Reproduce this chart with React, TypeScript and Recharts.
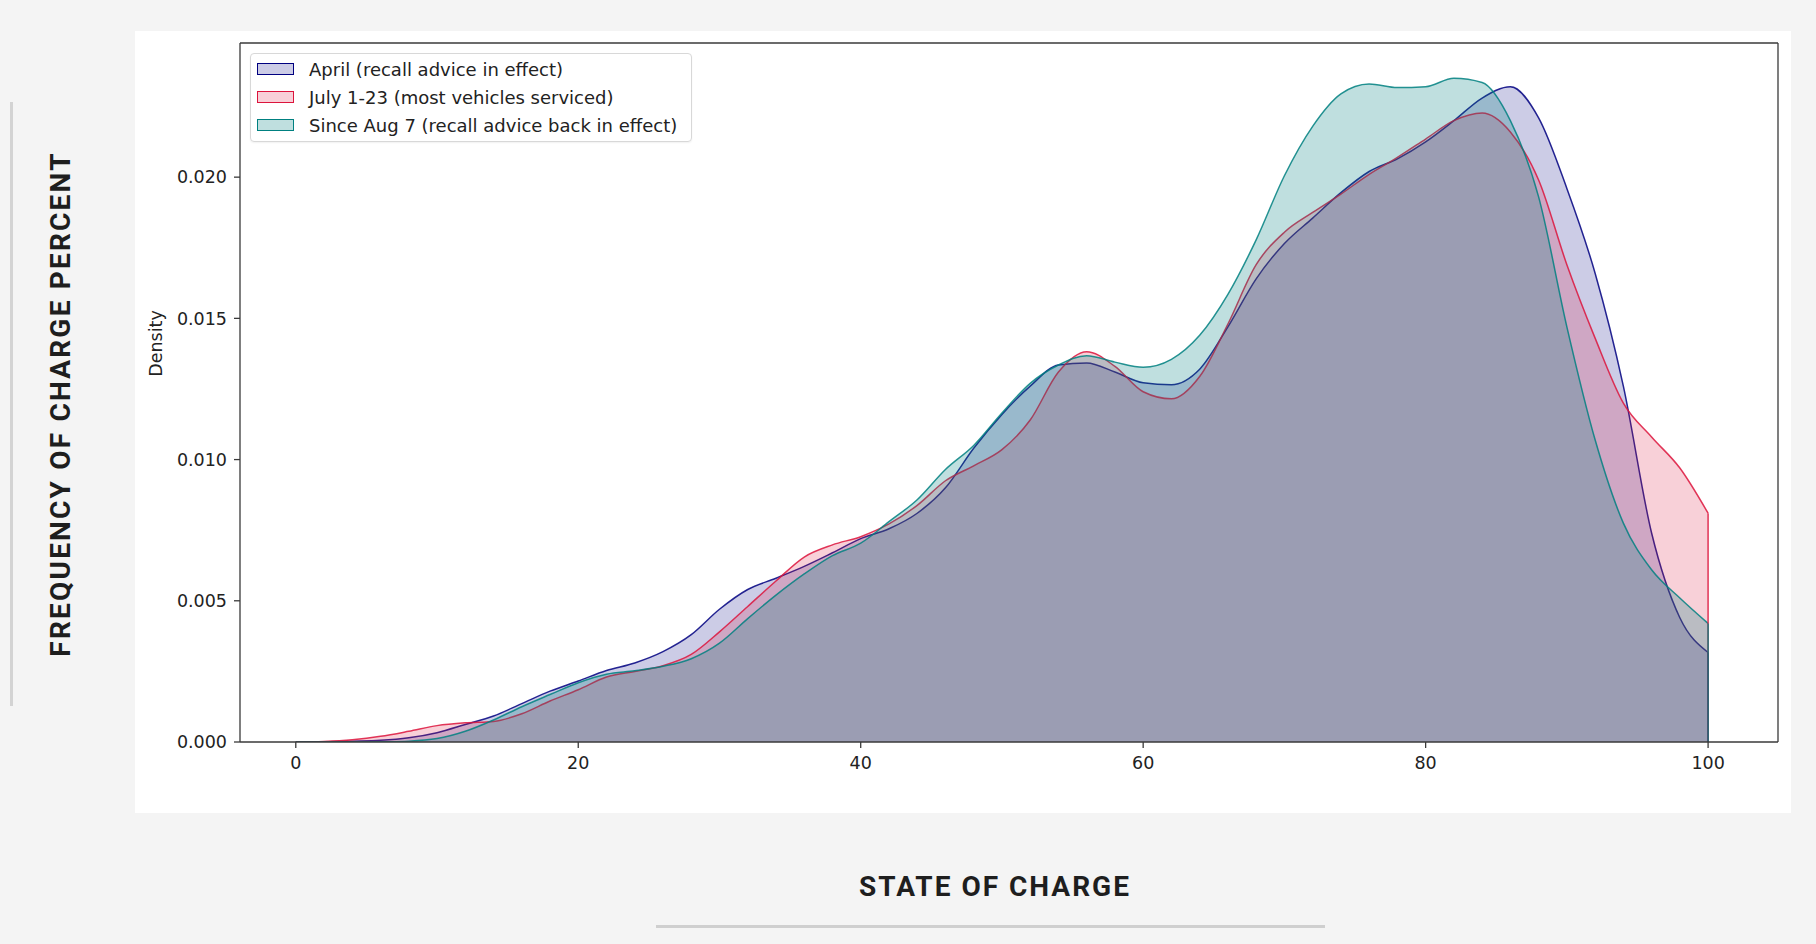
import { ComposedChart, Area, Line, XAxis, YAxis, Legend } from 'recharts';

// state of charge sample points (the density estimate is clipped at 100)
const soc = [
  0, 2, 4, 6, 8, 10, 12, 14, 16, 18, 20, 22, 24, 26, 28, 30, 32, 34, 36, 38, 40, 42, 44, 46, 48, 50,
  52, 54, 56, 58, 60, 62, 64, 66, 68, 70, 72, 74, 76, 78, 80, 82, 84, 86, 88, 90, 92, 94, 96, 98, 100,
];

const april = [
  0, 0.00001, 0.00003, 0.00006, 0.00015, 0.00033, 0.00062, 0.00092, 0.00136, 0.0018, 0.00216, 0.00253,
  0.0028, 0.0032, 0.0038, 0.0047, 0.0054, 0.0058, 0.00622, 0.0067, 0.0072, 0.00755, 0.0081, 0.009,
  0.0104, 0.0116, 0.0126, 0.01335, 0.01342, 0.0131, 0.01272, 0.01265, 0.0132, 0.0147, 0.0164, 0.01765,
  0.01855, 0.01945, 0.0202, 0.02065, 0.02125, 0.022, 0.0228, 0.0232, 0.0221, 0.0196, 0.0166, 0.0126,
  0.0074, 0.0044, 0.00317,
];

const july = [
  0, 0.00002, 0.00008, 0.0002, 0.00038, 0.00058, 0.00068, 0.00073, 0.001, 0.00145, 0.00185, 0.0023,
  0.0025, 0.0027, 0.0031, 0.0039, 0.0048, 0.0057, 0.00655, 0.00698, 0.00727, 0.00772, 0.00838, 0.00925,
  0.00978, 0.01035, 0.0114, 0.0131, 0.01382, 0.0133, 0.0124, 0.01215, 0.01294, 0.0148, 0.0169, 0.01805,
  0.01875, 0.0194, 0.0201, 0.0207, 0.02135, 0.022, 0.02227, 0.0216, 0.0199, 0.0169, 0.0143, 0.012,
  0.0108, 0.0097, 0.0081,
];

const aug = [
  0, 0, 0, 0.00001, 0.00003, 0.00012, 0.00038, 0.00078, 0.00125, 0.00168, 0.0021, 0.0024, 0.00252,
  0.00268, 0.00295, 0.0035, 0.00437, 0.0052, 0.00595, 0.0066, 0.00704, 0.0078, 0.00858, 0.00965, 0.0105,
  0.01165, 0.0127, 0.01335, 0.01368, 0.01345, 0.01327, 0.01355, 0.0144, 0.01585, 0.01778, 0.02005, 0.0218,
  0.02295, 0.0233, 0.02317, 0.0232, 0.0235, 0.02335, 0.022, 0.0193, 0.0147, 0.0107, 0.00775, 0.0061,
  0.0051, 0.0042,
];

const xTicks = [0, 20, 40, 60, 80, 100];
const yTicks = [0, 0.005, 0.01, 0.015, 0.02];

const series = [
  { key: 'april', values: april, name: 'April (recall advice in effect)', color: '#000080', alpha: 0.2, hex: '33' },
  { key: 'july', values: july, name: 'July 1-23 (most vehicles serviced)', color: '#dc143c', alpha: 0.2, hex: '33' },
  { key: 'aug', values: aug, name: 'Since Aug 7 (recall advice back in effect)', color: '#008080', alpha: 0.25, hex: '40' },
];

const data = soc.map((x, i) => ({ x, april: april[i], july: july[i], aug: aug[i] }));

// vertical edge where each clipped curve drops to zero at the last sample
const edge = (values: number[]) => {
  const last = soc.length - 1;
  return [
    { x: soc[last], y: values[last] },
    { x: soc[last], y: 0 },
  ];
};

const X_DOMAIN = [-3.95, 104.95];
const Y_DOMAIN = [0, 0.02475];
const tickStyle = { fontFamily: 'DejaVu Sans', fontSize: 17.5, fill: '#222' };
const spine = '#3a3a3a';

const LegendBox = () => (
  <div
    style={{
      position: 'relative',
      width: 442,
      height: 89,
      boxSizing: 'border-box',
      border: '1px solid #d8d8d8',
      borderRadius: 4,
      background: 'rgba(255,255,255,0.85)',
      boxShadow: '0 1px 2px rgba(0,0,0,0.06)',
      fontFamily: 'DejaVu Sans',
      fontSize: 18,
      color: '#222',
    }}
  >
    {series.map((s, i) => (
      <div
        key={s.key}
        style={{ position: 'absolute', left: 6, top: 1 + i * 28, height: 28, display: 'flex', alignItems: 'center', whiteSpace: 'nowrap' }}
      >
        <span
          style={{
            width: 37,
            height: 12,
            boxSizing: 'border-box',
            border: `1.5px solid ${s.color}`,
            background: s.color + s.hex,
            marginRight: 15,
          }}
        />
        <span>{s.name}</span>
      </div>
    ))}
  </div>
);

const DensityLabel = (props: any) => {
  const vb = props.viewBox;
  const cx = vb.x - 24;
  const cy = vb.y + vb.height / 2 - 49;
  return (
    <text
      x={cx}
      y={cy}
      transform={`rotate(-90, ${cx}, ${cy})`}
      textAnchor="middle"
      dominantBaseline="central"
      style={{ fontFamily: 'DejaVu Sans', fontSize: 17.5, fill: '#222' }}
    >
      Density
    </text>
  );
};

export default function App() {
  return (
    <div style={{ position: 'absolute', left: 0, top: 0, width: 1816, height: 944, background: '#f4f4f4', overflow: 'hidden' }}>
      <div style={{ position: 'absolute', left: 10, top: 102, width: 3, height: 604, background: '#d3d3d3' }} />
      <div
        style={{
          position: 'absolute',
          left: 60,
          top: 404,
          transform: 'translate(-50%, -50%) rotate(-90deg)',
          whiteSpace: 'nowrap',
          fontFamily: 'Roboto',
          fontWeight: 700,
          fontSize: 28,
          letterSpacing: 2.2,
          color: '#1e1e1e',
        }}
      >
        FREQUENCY OF CHARGE PERCENT
      </div>
      <div style={{ position: 'absolute', left: 135, top: 31, width: 1656, height: 782, background: '#ffffff' }} />
      <div style={{ position: 'absolute', left: 0, top: 0 }}>
        <ComposedChart width={1816} height={944} data={data} margin={{ top: 42, right: 37, bottom: 172, left: 180 }}>
          <XAxis
            type="number"
            dataKey="x"
            domain={X_DOMAIN}
            ticks={xTicks}
            allowDataOverflow
            height={30}
            tickSize={6}
            tickMargin={9}
            tick={tickStyle}
            stroke={spine}
            strokeWidth={1.3}
          />
          <XAxis
            xAxisId="top"
            orientation="top"
            type="number"
            dataKey="x"
            domain={X_DOMAIN}
            allowDataOverflow
            height={1}
            tick={false}
            tickLine={false}
            stroke={spine}
            strokeWidth={1.3}
          />
          <YAxis
            type="number"
            domain={Y_DOMAIN}
            ticks={yTicks}
            allowDataOverflow
            width={60}
            tickSize={6}
            tickMargin={7}
            tick={tickStyle}
            tickFormatter={(v: number) => v.toFixed(3)}
            stroke={spine}
            strokeWidth={1.3}
            label={{ value: 'Density', content: DensityLabel }}
          />
          <YAxis
            yAxisId="right"
            orientation="right"
            type="number"
            domain={Y_DOMAIN}
            allowDataOverflow
            width={1}
            tick={false}
            tickLine={false}
            stroke={spine}
            strokeWidth={1.3}
          />
          <Legend
            layout="vertical"
            align="center"
            verticalAlign="middle"
            content={() => <LegendBox />}
            wrapperStyle={{ left: 250, top: 53, width: 442, height: 89 }}
          />
          {series.map((s) => (
            <Area
              key={s.key}
              type="monotone"
              dataKey={s.key}
              name={s.name}
              stroke={s.color}
              strokeWidth={1.5}
              strokeOpacity={0.85}
              fill={s.color}
              fillOpacity={s.alpha}
              dot={false}
              activeDot={false}
              legendType="none"
              isAnimationActive={false}
            />
          ))}
          {series.map((s) => (
            <Line
              key={`${s.key}-edge`}
              data={edge(s.values)}
              dataKey="y"
              type="linear"
              stroke={s.color}
              strokeWidth={1.5}
              strokeOpacity={0.85}
              dot={false}
              activeDot={false}
              legendType="none"
              isAnimationActive={false}
            />
          ))}
        </ComposedChart>
      </div>
      <div
        style={{
          position: 'absolute',
          left: 995,
          top: 886,
          transform: 'translate(-50%, -50%)',
          whiteSpace: 'nowrap',
          fontFamily: 'Roboto',
          fontWeight: 700,
          fontSize: 28,
          letterSpacing: 2,
          color: '#1e1e1e',
        }}
      >
        STATE OF CHARGE
      </div>
      <div style={{ position: 'absolute', left: 656, top: 925, width: 669, height: 3, background: '#cfcfcf' }} />
    </div>
  );
}
